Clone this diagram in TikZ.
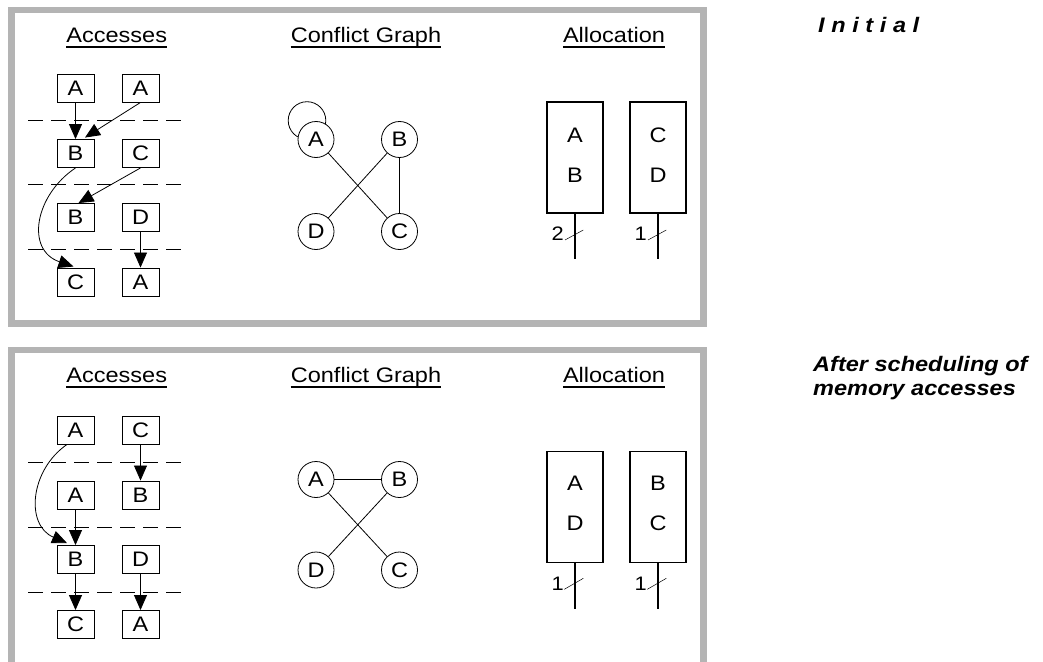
\documentclass[tikz,border=0pt]{standalone}
\usepackage{fontspec}
\setmainfont{Liberation Sans}
\usepackage{graphicx}
\usetikzlibrary{arrows.meta}
\definecolor{framegray}{RGB}{180,180,180}
\newcommand\stx[1]{\scalebox{1.12}[1]{#1}}
\newcommand\lsp{\kern5.9pt}
\tikzset{
  accbox/.style={draw, line width=0.9pt, minimum width=37pt, minimum height=28pt, inner sep=0pt, font=\fontsize{21}{24}\selectfont},
  cgnode/.style={circle, draw, line width=0.8pt, minimum size=36pt, inner sep=0pt, fill=white, font=\fontsize{21}{24}\selectfont},
  membox/.style={draw, line width=1.8pt, minimum width=56pt, minimum height=111pt, inner sep=0pt},
  memlet/.style={inner sep=0pt, font=\fontsize{21}{24}\selectfont},
  buslabel/.style={inner sep=0pt, anchor=base east, font=\fontsize{19.5}{22}\selectfont},
  title/.style={inner sep=0pt, anchor=base, font=\fontsize{21}{24}\selectfont},
  uline/.style={line width=1.6pt},
  frame/.style={draw=framegray, line width=6.6pt, line join=miter},
  sepline/.style={dash pattern=on 15pt off 8pt, line width=0.7pt},
  flow/.style={-{Triangle[length=15pt,width=13pt]}, line width=0.8pt},
  cgedge/.style={line width=0.8pt},
  bus/.style={line width=1.8pt},
  slash/.style={line width=0.5pt},
  side/.style={inner sep=0pt, anchor=base west, font=\fontsize{21}{24}\selectfont\bfseries\itshape},
}
\begin{document}
\begin{tikzpicture}[x=1pt,y=-1pt]
\useasboundingbox (0,0) rectangle (1043,661);
\fill[white] (0,0) rectangle (1043,661);

% frames
\draw[frame] (11.7,10) rectangle (703.3,323.3);
\draw[frame] (11.7,662) -- (11.7,350) -- (703.3,350) -- (703.3,662);

% ---------- titles ----------
\foreach \oy/\sfx in {0/t,340/b}{
  \node[title] (acc\sfx) at (116.7,42.3+\oy) {\stx{Accesses}};
  \node[title] (cg\sfx) at (366,42.3+\oy) {\stx{Conflict Graph}};
  \node[title] (al\sfx) at (614,42.3+\oy) {\stx{Allocation}};
  \draw[uline] ([yshift=-4.6pt]acc\sfx.base west) -- ([yshift=-4.6pt]acc\sfx.base east);
  \draw[uline] ([yshift=-4.6pt]cg\sfx.base west) -- ([yshift=-4.6pt]cg\sfx.base east);
  \draw[uline] ([yshift=-4.6pt]al\sfx.base west) -- ([yshift=-4.6pt]al\sfx.base east);
}

% ---------- side texts ----------
\node[side] (init) at (818,32.7) {\stx{I\lsp n\lsp i\lsp t\lsp i\lsp a\lsp l}};
\node[side] (aft1) at (813,371.7) {\stx{After scheduling of}};
\node[side] (aft2) at (813,395) {\stx{memory accesses}};

% ---------- top: accesses ----------
\node[accbox] (t11) at (75.5,88) {\stx{A}};
\node[accbox] (t12) at (140.5,88) {\stx{A}};
\node[accbox] (t21) at (75.5,153.5) {\stx{B}};
\node[accbox] (t22) at (140.5,153.5) {\stx{C}};
\node[accbox] (t31) at (75.5,217.5) {\stx{B}};
\node[accbox] (t32) at (140.5,217.5) {\stx{D}};
\node[accbox] (t41) at (75.5,282) {\stx{C}};
\node[accbox] (t42) at (140.5,282) {\stx{A}};
\foreach \yy in {120,184.5,249}{\draw[sepline] (28,\yy) -- (188,\yy);}
\draw[flow] (t11.south) -- (t21.north);
\draw[flow] (t12.south) -- ([xshift=9.5pt,yshift=1.5pt]t21.north);
\draw[flow] (t22.south) -- ([xshift=3pt]t31.north);
\draw[flow] (t21.south) .. controls (35,195) and (25,250) .. ([xshift=-2pt,yshift=1pt]t41.north);
\draw[flow] (t32.south) -- (t42.north);

% ---------- top: conflict graph ----------
\draw[cgedge] (307,120.5) circle (18.8pt);
\node[cgnode] (tA) at (316,139.5) {\stx{A}};
\node[cgnode] (tB) at (399.5,139.5) {\stx{B}};
\node[cgnode] (tD) at (316,231.5) {\stx{D}};
\node[cgnode] (tC) at (399.5,231.5) {\stx{C}};
\draw[cgedge] (tA) -- (tC);
\draw[cgedge] (tB) -- (tD);
\draw[cgedge] (tB) -- (tC);

% ---------- top: allocation ----------
\node[membox] (tm1) at (575,157.5) {};
\node[membox] (tm2) at (658,157.5) {};
\node[memlet] (tm1a) at (575,135) {\stx{A}};
\node[memlet] (tm1b) at (575,175) {\stx{B}};
\node[memlet] (tm2a) at (658,135) {\stx{C}};
\node[memlet] (tm2b) at (658,175) {\stx{D}};
\coordinate (te1) at (575,259);
\coordinate (te2) at (658,259);
\draw[bus] (tm1.south) -- (te1);
\draw[bus] (tm2.south) -- (te2);
\draw[slash] (565,240) -- (583.3,230);
\draw[slash] (648,240) -- (666.3,230);
\node[buslabel] (tl1) at (564,240) {\stx{2}};
\node[buslabel] (tl2) at (647,240) {\stx{1}};

% ---------- bottom: accesses ----------
\node[accbox] (b11) at (75.5,430) {\stx{A}};
\node[accbox] (b12) at (140.5,430) {\stx{C}};
\node[accbox] (b21) at (75.5,495) {\stx{A}};
\node[accbox] (b22) at (140.5,495) {\stx{B}};
\node[accbox] (b31) at (75.5,559.5) {\stx{B}};
\node[accbox] (b32) at (140.5,559.5) {\stx{D}};
\node[accbox] (b41) at (75.5,624.5) {\stx{C}};
\node[accbox] (b42) at (140.5,624.5) {\stx{A}};
\foreach \yy in {462.7,527,592}{\draw[sepline] (28,\yy) -- (188,\yy);}
\draw[flow] (b12.south) -- (b22.north);
\draw[flow] (b21.south) -- (b31.north);
\draw[flow] ([xshift=-8.5pt]b11.south) .. controls (30,470) and (25,525) .. ([xshift=-8.5pt,yshift=2pt]b31.north);
\draw[flow] (b31.south) -- (b41.north);
\draw[flow] (b32.south) -- (b42.north);

% ---------- bottom: conflict graph ----------
\node[cgnode] (bA) at (316,479.5) {\stx{A}};
\node[cgnode] (bB) at (399.5,479.5) {\stx{B}};
\node[cgnode] (bD) at (316,570) {\stx{D}};
\node[cgnode] (bC) at (399.5,570) {\stx{C}};
\draw[cgedge] (bA) -- (bB);
\draw[cgedge] (bA) -- (bC);
\draw[cgedge] (bB) -- (bD);

% ---------- bottom: allocation ----------
\node[membox] (bm1) at (575,507) {};
\node[membox] (bm2) at (658,507) {};
\node[memlet] (bm1a) at (575,483) {\stx{A}};
\node[memlet] (bm1b) at (575,523) {\stx{D}};
\node[memlet] (bm2a) at (658,483) {\stx{B}};
\node[memlet] (bm2b) at (658,523) {\stx{C}};
\coordinate (be1) at (575,609);
\coordinate (be2) at (658,609);
\draw[bus] (bm1.south) -- (be1);
\draw[bus] (bm2.south) -- (be2);
\draw[slash] (564.3,589.3) -- (583.3,578.3);
\draw[slash] (647.3,589.3) -- (666.3,578.3);
\node[buslabel] (bl1) at (564,590) {\stx{1}};
\node[buslabel] (bl2) at (647,590) {\stx{1}};
\end{tikzpicture}
\end{document}
